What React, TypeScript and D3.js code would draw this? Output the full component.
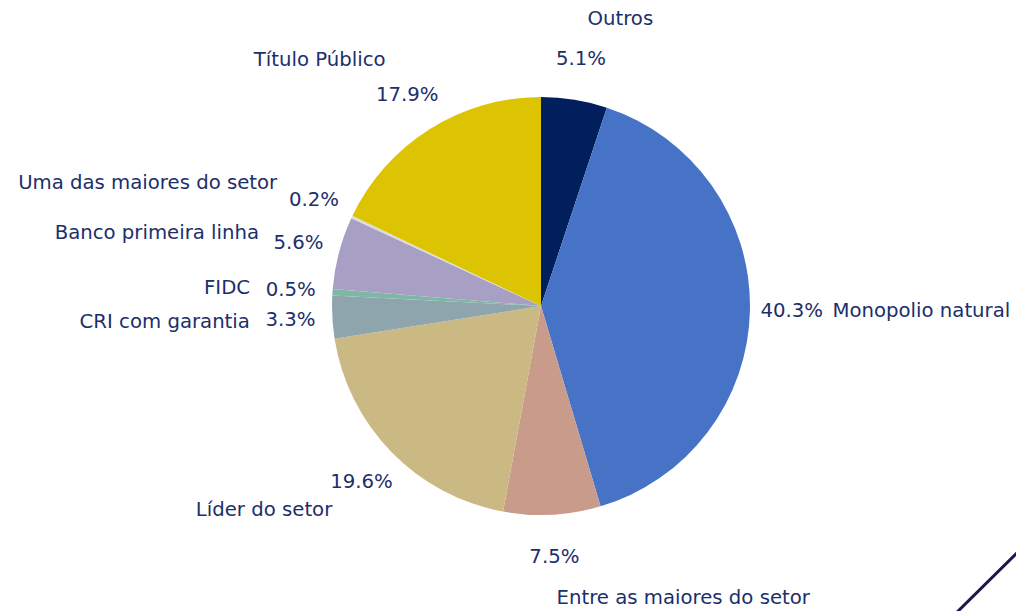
import React from "react";
import * as d3 from "d3";

const categories = [
  "Outros",
  "Monopolio natural",
  "Entre as maiores do setor",
  "Líder do setor",
  "CRI com garantia",
  "FIDC",
  "Banco primeira linha",
  "Uma das maiores do setor",
  "Título Público",
];
const values = [5.1, 40.3, 7.5, 19.6, 3.3, 0.5, 5.6, 0.2, 17.9];
const colors = [
  "#001f5c",
  "#4673c6",
  "#c99b8b",
  "#cbb983",
  "#8fa5ad",
  "#7fb7a6",
  "#a8a0c4",
  "#dcdcdc",
  "#dcc402",
];

const W = 1016;
const H = 611;
const cx = 541;
const cy = 306;
const r = 209;
const labelDist = 1.395;
const pctDist = 1.2;
const textColor = "#1c2f6b";
const fontSize = 19.7;

export default function App() {
  const data = categories.map((c, i) => ({ c, v: values[i], color: colors[i] }));
  const pie = d3
    .pie<any>()
    .value((d: any) => d.v)
    .sort(null)
    .startAngle(0)
    .endAngle(2 * Math.PI);
  const arcs = pie(data);
  const arc = d3.arc<any>().innerRadius(0).outerRadius(r);

  return (
    <svg
      width={W}
      height={H}
      style={{ position: "absolute", left: 0, top: 0, background: "#fff" }}
      fontFamily="DejaVu Sans, sans-serif"
      fontSize={fontSize}
    >
      <g transform={`translate(${cx},${cy})`}>
        {arcs.map((a, i) => (
          <path key={i} d={arc(a) as string} fill={a.data.color} />
        ))}
      </g>
      {arcs.map((a, i) => {
        const m = (a.startAngle + a.endAngle) / 2;
        const sx = Math.sin(m);
        const sy = -Math.cos(m);
        const lx = cx + r * labelDist * sx;
        const ly = cy + r * labelDist * sy;
        const px = cx + r * pctDist * sx;
        const py = cy + r * pctDist * sy;
        return (
          <g key={i} fill={textColor}>
            <text x={lx} y={ly} dy="0.35em" textAnchor={sx > 0 ? "start" : "end"}>
              {a.data.c}
            </text>
            <text x={px} y={py} dy="0.35em" textAnchor="middle">
              {a.data.v.toFixed(1) + "%"}
            </text>
          </g>
        );
      })}
      <line x1={940} y1={629} x2={1034} y2={536} stroke="#1a1650" strokeWidth={3} />
    </svg>
  );
}
